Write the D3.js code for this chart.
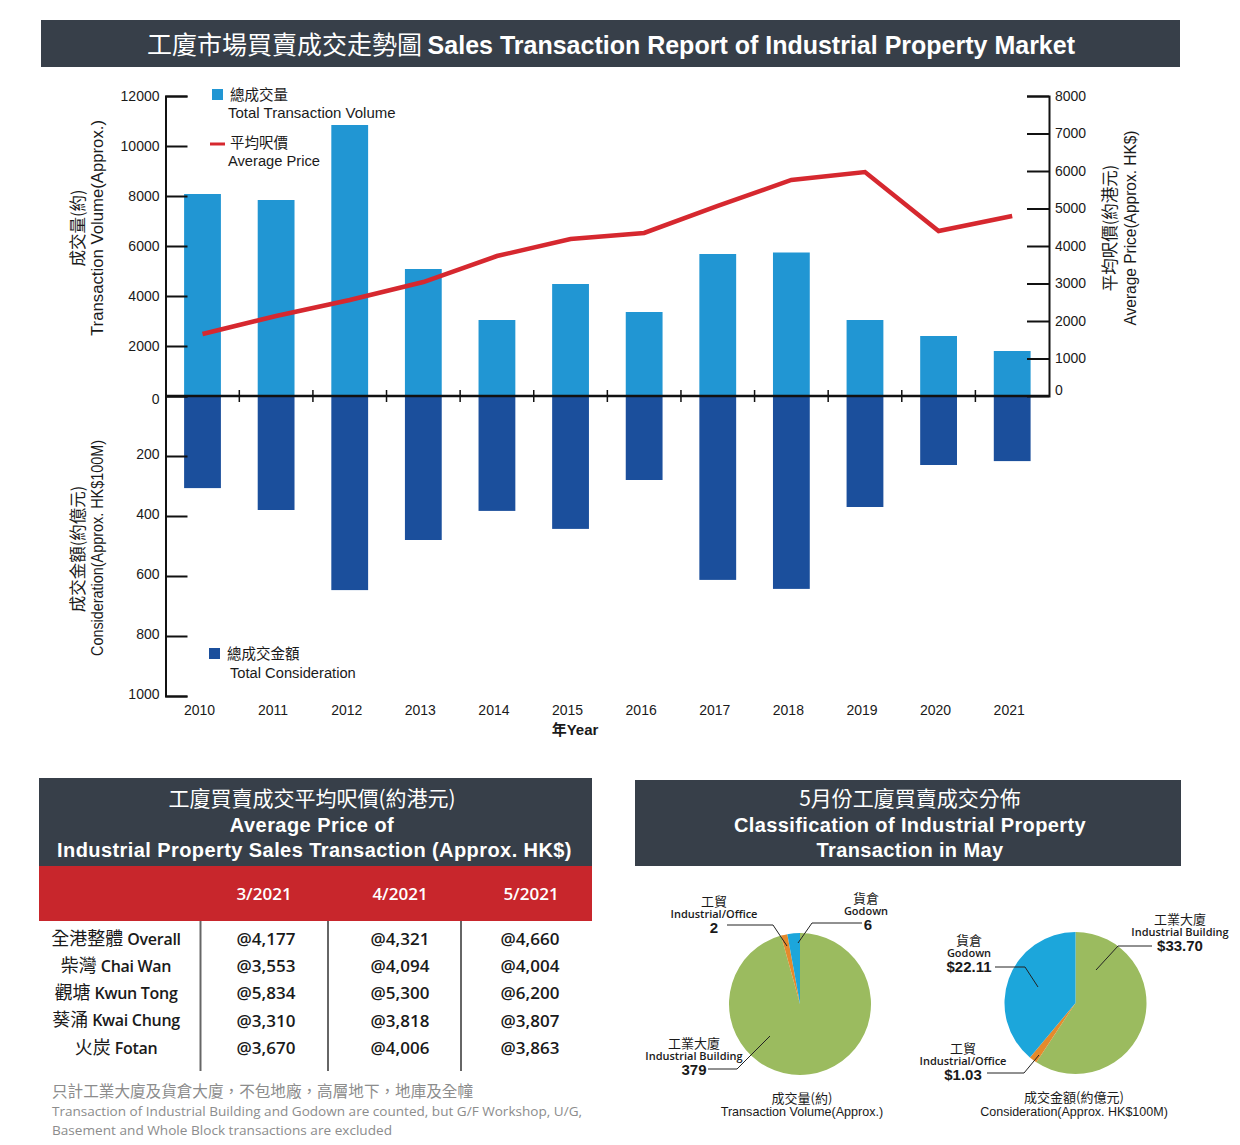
<!DOCTYPE html>
<html lang="zh-Hant">
<head>
<meta charset="utf-8">
<title>Sales Transaction Report of Industrial Property Market</title>
<script src="https://cdn.jsdelivr.net/npm/d3@7"></script>
<style>
  html, body { margin: 0; padding: 0; background: #fff; }
  svg { display: block; }
  text { font-family: "Liberation Sans", "Noto Sans CJK TC", sans-serif; fill: #1a1a1a; }
  .cjk { font-family: "Noto Sans CJK TC", sans-serif; font-weight: 400; }
  .cjk-light { font-family: "Noto Sans CJK TC", sans-serif; font-weight: 300; }
  .humanist { font-family: "Open Sans", "Noto Sans CJK TC", sans-serif; }
</style>
</head>
<body>
<svg id="chart" width="1240" height="1145"></svg>
<script>
// values
const years = [2010, 2011, 2012, 2013, 2014, 2015, 2016, 2017, 2018, 2019, 2020, 2021];
const volume = [8080, 7840, 10840, 5080, 3040, 4480, 3360, 5680, 5740, 3040, 2400, 1800];
const consideration = [307, 380, 647, 480, 383, 443, 280, 613, 643, 370, 230, 217];
const avgPrice = [1653, 2133, 2560, 3040, 3733, 4187, 4347, 5067, 5760, 5973, 4400, 4800];

const volumeTicks = [0, 2000, 4000, 6000, 8000, 10000, 12000];
const considerationTicks = [200, 400, 600, 800, 1000];
const priceTicks = [1000, 2000, 3000, 4000, 5000, 6000, 7000, 8000];

const months = ["3/2021", "4/2021", "5/2021"];
const districtsZh = ["全港整體", "柴灣", "觀塘", "葵涌", "火炭"];
const districtsEn = ["Overall", "Chai Wan", "Kwun Tong", "Kwai Chung", "Fotan"];
const priceMar = ["@4,177", "@3,553", "@5,834", "@3,310", "@3,670"];
const priceApr = ["@4,321", "@4,094", "@5,300", "@3,818", "@4,006"];
const priceMay = ["@4,660", "@4,004", "@6,200", "@3,807", "@3,863"];

// slice order: building, office, godown
const volumeByType = [379, 2, 6];
const considerationByType = [33.70, 1.03, 22.11];
// the drawn slices in the picture are wider than the printed 2 and 6 would give,
// so the left pie uses the angles (degrees)
const volumeSliceAngles = [344.5, 5.2, 10.3];

const DARK = "#373f49";
const RED = "#c8262c";
const LINE_RED = "#d6282f";
const LIGHT_BLUE = "#2196d3";
const DEEP_BLUE = "#1b4f9c";
const pieColors = ["#9bbb5f", "#e58a2c", "#1ca6db"];

const svg = d3.select("#chart");

// small helper so all the labels are placed the same way
function label(x, y, str, size, opts) {
  opts = opts || {};
  const t = svg.append("text")
    .attr("x", x).attr("y", y).attr("dy", ".35em")
    .attr("font-size", size)
    .attr("text-anchor", opts.anchor || "middle")
    .attr("font-weight", opts.weight || 400)
    .text(str);
  if (opts.cls) t.attr("class", opts.cls);
  if (opts.fill) t.style("fill", opts.fill);
  if (opts.spacing) t.attr("letter-spacing", opts.spacing);
  if (opts.rotate) t.attr("transform", "rotate(-90," + x + "," + y + ")");
  if (opts.len) t.attr("textLength", opts.len).attr("lengthAdjust", "spacingAndGlyphs");
  return t;
}

function panel(x, y, w, h, color) {
  svg.append("rect").attr("x", x).attr("y", y).attr("width", w).attr("height", h).attr("fill", color);
}

function drawTitle() {
  panel(41, 20, 1139, 47, DARK);
  const t = svg.append("text").attr("x", 611).attr("y", 45).attr("dy", ".35em")
    .attr("text-anchor", "middle").attr("font-size", 25);
  t.append("tspan").attr("class", "cjk").style("fill", "#fff").text("工廈市場買賣成交走勢圖 ");
  t.append("tspan").attr("font-weight", 700).style("fill", "#fff")
    .text("Sales Transaction Report of Industrial Property Market");
}

function drawBars() {
  const x = d3.scaleBand().domain(years).range([165.7, 1049]).paddingInner(0.5).paddingOuter(0.25);
  const yUp = d3.scaleLinear().domain([0, 12000]).range([396, 96]);
  const yDown = d3.scaleLinear().domain([0, 1000]).range([396, 696]);
  const yPrice = d3.scaleLinear().domain([0, 8000]).range([396, 96]);

  svg.append("g").selectAll("rect").data(years).join("rect")
    .attr("x", (d) => x(d))
    .attr("y", (d, i) => yUp(volume[i]))
    .attr("width", x.bandwidth())
    .attr("height", (d, i) => yUp(0) - yUp(volume[i]))
    .attr("fill", LIGHT_BLUE);

  svg.append("g").selectAll("rect").data(years).join("rect")
    .attr("x", (d) => x(d))
    .attr("y", yDown(0))
    .attr("width", x.bandwidth())
    .attr("height", (d, i) => yDown(consideration[i]) - yDown(0))
    .attr("fill", DEEP_BLUE);

  // axes, ticks point into the plot
  const axisUp = svg.append("g").attr("transform", "translate(165.5,0)")
    .call(d3.axisLeft(yUp).tickValues(volumeTicks).tickSize(-22).tickPadding(6).tickFormat(d3.format("d")));
  const axisDown = svg.append("g").attr("transform", "translate(165.5,0)")
    .call(d3.axisLeft(yDown).tickValues(considerationTicks).tickSize(-22).tickPadding(6).tickFormat(d3.format("d")));
  const axisPrice = svg.append("g").attr("transform", "translate(1049,0)")
    .call(d3.axisRight(yPrice).tickValues(priceTicks).tickSize(-22).tickPadding(6).tickFormat(d3.format("d")));

  [axisUp, axisDown, axisPrice].forEach((a) => {
    a.attr("font-family", null).attr("font-size", null);
    a.select(".domain").attr("stroke", "#111").attr("stroke-width", 2);
    a.selectAll(".tick line").attr("stroke", "#111").attr("stroke-width", 2);
    a.selectAll(".tick text").attr("font-size", 14);
  });
  axisUp.selectAll(".tick").filter((d) => d === 0).select("line").remove();
  axisUp.selectAll(".tick").filter((d) => d === 0).select("text").attr("dy", ".5em");
  axisDown.selectAll(".tick text").attr("dy", ".2em");

  // zero label of the right axis sits a bit above the line
  label(1055, 390, "0", 14, { anchor: "start" });

  // middle baseline with the crosses between the bars
  const base = svg.append("g").attr("transform", "translate(0,396)");
  base.append("line").attr("x1", 165).attr("x2", 1049).attr("stroke", "#111").attr("stroke-width", 2.5);
  base.selectAll("line.cross").data(years.slice(1)).join("line")
    .attr("class", "cross")
    .attr("x1", (d) => x(d) - x.step() * x.paddingInner() / 2)
    .attr("x2", (d) => x(d) - x.step() * x.paddingInner() / 2)
    .attr("y1", -6).attr("y2", 6)
    .attr("stroke", "#111").attr("stroke-width", 1.5);

  // year labels under the lower axis
  svg.append("g").selectAll("text").data(years).join("text")
    .attr("x", (d) => x(d) + x.bandwidth() / 2 - 3)
    .attr("y", 710).attr("dy", ".35em")
    .attr("text-anchor", "middle").attr("font-size", 14)
    .text((d) => d);

  const line = d3.line()
    .x((d, i) => x(years[i]) + x.bandwidth() / 2)
    .y((d) => yPrice(d));
  svg.append("path").datum(avgPrice).attr("d", line)
    .attr("fill", "none").attr("stroke", LINE_RED).attr("stroke-width", 4.5);
}

function drawBarLabels() {
  label(575, 730, "年Year", 15, { weight: 700 });

  label(78, 228, "成交量(約)", 16.5, { rotate: true, cls: "cjk" });
  label(97, 228, "Transaction Volume(Approx.)", 16, { rotate: true, len: 216 });
  label(78, 549, "成交金額(約億元)", 16.5, { rotate: true, cls: "cjk" });
  label(97, 548, "Consideration(Approx. HK$100M)", 16, { rotate: true, len: 216 });
  label(1110, 228, "平均呎價(約港元)", 16.5, { rotate: true, cls: "cjk" });
  label(1130, 228, "Average Price(Approx. HK$)", 16, { rotate: true, len: 195 });

  // legends
  panel(212, 89, 11, 11, LIGHT_BLUE);
  label(230, 95, "總成交量", 14.5, { anchor: "start", cls: "cjk" });
  label(228, 113, "Total Transaction Volume", 15, { anchor: "start" });
  svg.append("line").attr("x1", 210).attr("x2", 225).attr("y1", 144).attr("y2", 144)
    .attr("stroke", LINE_RED).attr("stroke-width", 3);
  label(230, 143, "平均呎價", 14.5, { anchor: "start", cls: "cjk" });
  label(228, 161, "Average Price", 14.7, { anchor: "start" });
  panel(209, 648, 11, 11, DEEP_BLUE);
  label(227, 654, "總成交金額", 14.5, { anchor: "start", cls: "cjk" });
  label(230, 673, "Total Consideration", 14.7, { anchor: "start" });
}

function drawTable() {
  panel(39, 778, 553, 88, DARK);
  panel(39, 866, 553, 55, RED);
  label(312, 799, "工廈買賣成交平均呎價(約港元)", 21, { cls: "cjk", fill: "#fff" });
  label(312, 825, "Average Price of", 20, { weight: 700, fill: "#fff", spacing: 0.45 });
  label(314.5, 850, "Industrial Property Sales Transaction (Approx. HK$)", 20, { weight: 700, fill: "#fff", spacing: 0.42 });

  const rowY = d3.scalePoint().domain(districtsEn).range([939, 1048]);
  const columns = [priceMar, priceApr, priceMay];
  const headerX = [264, 400, 531];
  const valueX = [266, 400, 530];

  months.forEach((m, i) => {
    label(headerX[i], 894, m, 17, { cls: "humanist", weight: 600, fill: "#fff" });
    columns[i].forEach((v, j) => {
      label(valueX[i], rowY(districtsEn[j]), v, 17, { cls: "humanist", weight: 600 });
    });
  });

  // district names: plain Chinese followed by narrow semibold English
  districtsEn.forEach((en, i) => {
    const t = svg.append("text").attr("x", 116).attr("y", rowY(en)).attr("dy", ".35em").attr("text-anchor", "middle");
    t.append("tspan").attr("class", "cjk").attr("font-size", 18).text(districtsZh[i] + " ");
    t.append("tspan").attr("class", "humanist").attr("font-size", 16).attr("font-weight", 600)
      .attr("letter-spacing", -0.3).text(en);
  });

  [200.5, 328, 461].forEach((x) => {
    svg.append("line").attr("x1", x).attr("x2", x).attr("y1", 921).attr("y2", 1071)
      .attr("stroke", "#666").attr("stroke-width", 2);
  });

  const gray = "#8c8c8c";
  label(52, 1092, "只計工業大廈及貨倉大廈，不包地廠，高層地下，地庫及全幢", 15.6, { anchor: "start", cls: "cjk", fill: gray });
  label(52, 1111, "Transaction of Industrial Building and Godown are counted, but G/F Workshop, U/G,", 13.5, { anchor: "start", cls: "humanist", fill: gray, len: 530 });
  label(52, 1130, "Basement and Whole Block transactions are excluded", 13.5, { anchor: "start", cls: "humanist", fill: gray, len: 340 });
}

function drawPie(cx, cy, r, values) {
  const slices = d3.pie().sort(null)(values);
  const arc = d3.arc().innerRadius(0).outerRadius(r);
  svg.append("g").attr("transform", "translate(" + cx + "," + cy + ")")
    .selectAll("path").data(slices).join("path")
    .attr("d", arc)
    .attr("fill", (d, i) => pieColors[i]);
}

function leader(points, color) {
  svg.append("path").attr("d", d3.line()(points))
    .attr("fill", "none").attr("stroke", color || "#222").attr("stroke-width", 1);
}

function typeLabel(x, y, zh, en, value, valueX) {
  label(x, y, zh, 13, { cls: "cjk" });
  label(x, y + 13, en, 11, { cls: "humanist", weight: 600 });
  label(valueX === undefined ? x : valueX, y + 27, value, 15, { weight: 700 });
}

function drawPies() {
  panel(635, 780, 546, 86, DARK);
  label(910, 799, "5月份工廈買賣成交分佈", 21, { cls: "cjk", fill: "#fff" });
  label(910, 825, "Classification of Industrial Property", 20, { weight: 700, fill: "#fff", spacing: 0.38 });
  label(910, 850, "Transaction in May", 20, { weight: 700, fill: "#fff", spacing: 0.38 });

  drawPie(800, 1004, 71, volumeSliceAngles);
  leader([[787, 946], [773, 925], [727, 925]]);
  leader([[798, 943], [812, 923], [862, 923]]);
  leader([[770, 1036], [737, 1069], [708, 1069]]);
  typeLabel(714, 901, "工貿", "Industrial/Office", volumeByType[1]);
  typeLabel(866, 898, "貨倉", "Godown", volumeByType[2], 868);
  typeLabel(694, 1043, "工業大廈", "Industrial Building", volumeByType[0]);
  label(802, 1098, "成交量(約)", 13, { cls: "cjk" });
  label(802, 1112, "Transaction Volume(Approx.)", 12.6);

  drawPie(1075.5, 1003, 71, considerationByType);
  leader([[1096, 970], [1118, 946], [1152, 946]]);
  leader([[1038, 987], [1025, 967], [995, 967]]);
  leader([[1039, 1055], [1024, 1073], [987, 1073]]);
  const money = d3.format("$.2f");
  typeLabel(1180, 919, "工業大廈", "Industrial Building", money(considerationByType[0]));
  typeLabel(969, 940, "貨倉", "Godown", money(considerationByType[2]));
  typeLabel(963, 1048, "工貿", "Industrial/Office", money(considerationByType[1]));
  label(1074, 1097, "成交金額(約億元)", 13, { cls: "cjk" });
  label(1074, 1112, "Consideration(Approx. HK$100M)", 12.5);
}

drawTitle();
drawBars();
drawBarLabels();
drawTable();
drawPies();
</script>
</body>
</html>
